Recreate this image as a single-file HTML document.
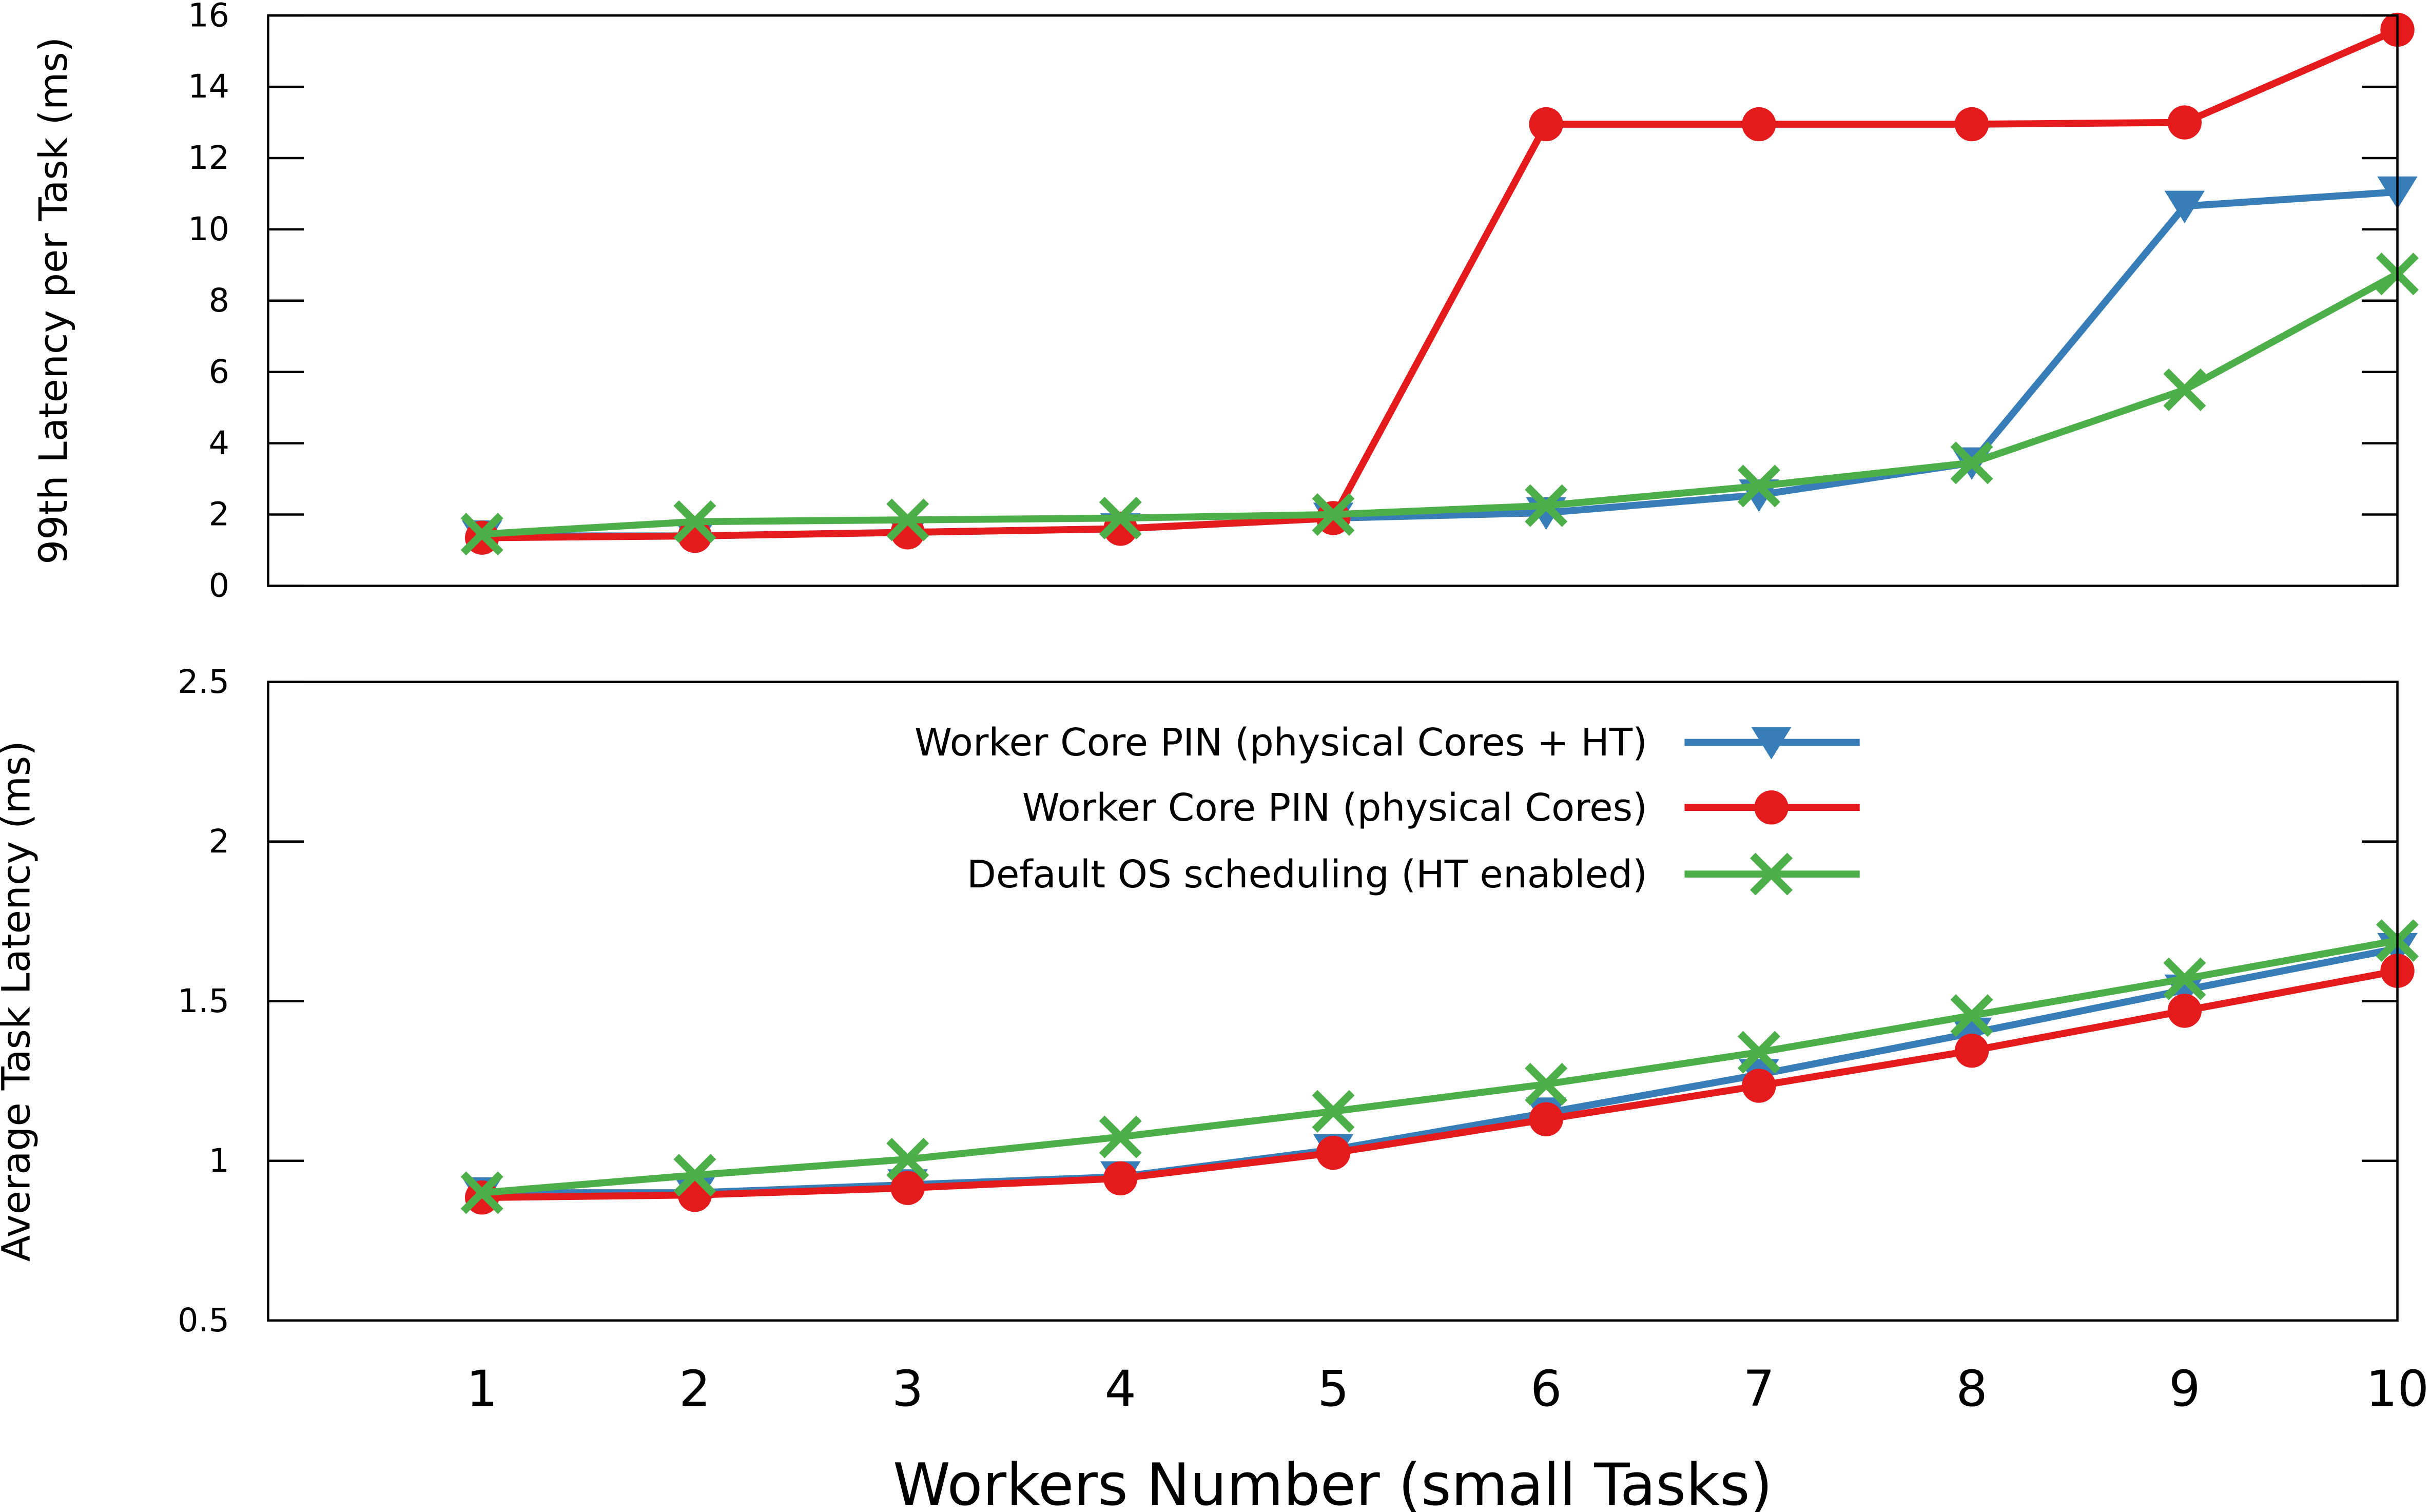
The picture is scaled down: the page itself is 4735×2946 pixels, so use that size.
<!DOCTYPE html>
<html><head><meta charset="utf-8"><style>html,body{margin:0;padding:0;background:#fff}svg{display:block}</style></head>
<body>
<svg id="chart" width="4735" height="2946" viewBox="0 0 1568 975.6" xmlns="http://www.w3.org/2000/svg" font-family="'DejaVu Sans','Liberation Sans',sans-serif"></svg>
<script>
const workers = [1,2,3,4,5,6,7,8,9,10];
const topTicks = [0,2,4,6,8,10,12,14,16];
const botTicks = [0.5,1,1.5,2,2.5];
const botTickLabels = ['0.5','1','1.5','2','2.5'];
const seriesNames = ['Worker Core PIN (physical Cores + HT)','Worker Core PIN (physical Cores)','Default OS scheduling (HT enabled)'];
const p99Blue = [1.4,1.4,1.5,1.6,1.9,2.05,2.55,3.45,10.65,11.05];
const p99Red = [1.35,1.4,1.5,1.6,1.9,12.95,12.95,12.95,13.0,15.6];
const p99Green = [1.45,1.8,1.85,1.9,2.0,2.25,2.8,3.45,5.5,8.75];
const avgBlue = [0.9,0.9,0.925,0.95,1.035,1.15,1.27,1.40,1.535,1.665];
const avgRed = [0.885,0.893,0.915,0.945,1.025,1.13,1.235,1.345,1.47,1.595];
const avgGreen = [0.9,0.955,1.005,1.075,1.155,1.24,1.34,1.455,1.57,1.69];

const NS='http://www.w3.org/2000/svg';
const svg=document.getElementById('chart');
function mk(tag,attrs,parent){const e=document.createElementNS(NS,tag);for(const k in attrs)e.setAttribute(k,attrs[k]);(parent||svg).appendChild(e);return e;}
const L=173,R=1547;
const xs=v=>311+(v-1)*(R-311)/9;
const yTop=v=>378-(v-0)*(378-10)/16;
const yBot=v=>852-(v-0.5)*(852-440)/2;
const colors=['#377eb8','#e41a1c','#4daf4a'];

function marker(kind,x,y,c,g){
  if(kind===0){const m=mk('polygon',{points:`${x-13},${y-10} ${x+13},${y-10} ${x},${y+11}`,fill:c},g);
    
    }
  else if(kind===1){const m=mk('circle',{cx:x,cy:y,r:11,fill:c},g);
    
    }
  else {const m=mk('path',{d:`M${x-12},${y-12}L${x+12},${y+12}M${x-12},${y+12}L${x+12},${y-12}`,stroke:c,'stroke-width':5,fill:'none'},g);
    
    }
}
function panel(top,bot,ys,ticks,labels,series,title,name){
  const g=mk('g',{});
  
  
  ticks.forEach((t,i)=>{
    const y=ys(t);
    mk('line',{x1:L,x2:L+23,y1:y,y2:y,stroke:'#000','stroke-width':1.5},g);
    mk('line',{x1:R-23,x2:R,y1:y,y2:y,stroke:'#000','stroke-width':1.5},g);
    const tx=mk('text',{x:148,y:y+7,'text-anchor':'end','font-size':21},g);
    tx.textContent=labels[i];
    
    
  });
  series.forEach((vals,si)=>{
    const pts=vals.map((v,i)=>xs(workers[i])+','+ys(v)).join(' ');
    const pl=mk('polyline',{points:pts,fill:'none',stroke:colors[si],'stroke-width':4.5,'stroke-linejoin':'round'},g);
    
    
    vals.forEach((v,i)=>marker(si,xs(workers[i]),ys(v),colors[si],g));
  });
  const fr=mk('rect',{x:L,y:top,width:R-L,height:bot-top,fill:'none',stroke:'#000','stroke-width':1.5},g);
  
  
  const cy=(top+bot)/2;
  const at=mk('text',{x:0,y:0,'text-anchor':'middle','font-size':25,transform:`translate(${name==='top-panel'?43:19},${cy}) rotate(-90)`},g);
  at.textContent=title;
  
  
}
panel(10,378,yTop,topTicks,topTicks.map(String),[p99Blue,p99Red,p99Green],'99th Latency per Task (ms)','top-panel');
panel(440,852,yBot,botTicks,botTickLabels,[avgBlue,avgRed,avgGreen],'Average Task Latency (ms)','bottom-panel');

workers.forEach(w=>{
  const t=mk('text',{x:xs(w),y:907,'text-anchor':'middle','font-size':32});
  t.textContent=String(w);
  
  
});
const xt=mk('text',{x:860,y:971,'text-anchor':'middle','font-size':37.5});
xt.textContent='Workers Number (small Tasks)';



const lg=mk('g',{});


[479,521,564].forEach((y,i)=>{
  const t=mk('text',{x:1063,y:y+8.5,'text-anchor':'end','font-size':24.5},lg);
  t.textContent=seriesNames[i];
  
  
  mk('line',{x1:1087,x2:1200,y1:y,y2:y,stroke:colors[i],'stroke-width':4.5},lg);
  marker(i,1143,y,colors[i],lg);
});
</script>
</body></html>
